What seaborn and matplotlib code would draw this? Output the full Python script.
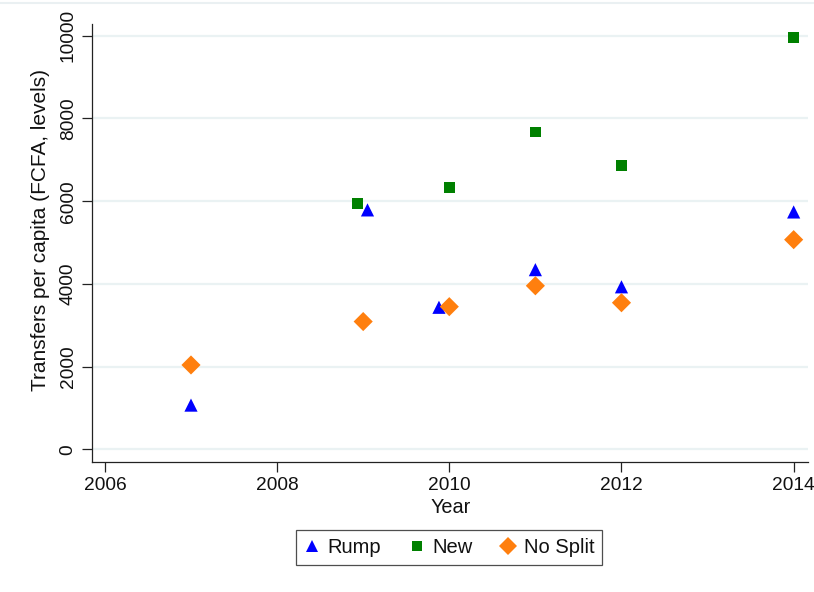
#! /usr/bin/env python3
# -*- coding: utf-8 -*-

import numpy as np
import pandas as pd
import matplotlib as mpl
mpl.use('Agg')
import matplotlib.pyplot as plt
from matplotlib.lines import Line2D
import seaborn as sns

#========================================================================================
# values (years are slightly offset where markers would overlap)
rump_year = [2007.0, 2009.05, 2009.88, 2011.0, 2012.0, 2014.0]
rump_val = [1070, 5790, 3435, 4345, 3930, 5740]

new_year = [2008.93, 2010.0, 2011.0, 2012.0, 2014.0]
new_val = [5950, 6340, 7675, 6870, 9950]

nosplit_year = [2007.0, 2009.0, 2010.0, 2011.0, 2012.0, 2014.0]
nosplit_val = [2040, 3090, 3450, 3955, 3545, 5070]

groups = ['Rump', 'New', 'No Split']
x_ticks = [2006, 2008, 2010, 2012, 2014]
y_ticks = [0, 2000, 4000, 6000, 8000, 10000]

#========================================================================================
df = pd.concat([
    pd.DataFrame({'Year': new_year, 'val': new_val, 'group': 'New'}),
    pd.DataFrame({'Year': rump_year, 'val': rump_val, 'group': 'Rump'}),
    pd.DataFrame({'Year': nosplit_year, 'val': nosplit_val, 'group': 'No Split'}),
], ignore_index=True)

sns.set_style('white')
plt.rcParams['font.family'] = ['Liberation Sans', 'DejaVu Sans']
txt = '#111111'

fig = plt.figure(figsize=(8.14, 5.92), dpi=100)
ax = fig.add_axes([0.113, 0.220, 0.880, 0.7395])

palette = {'Rump': '#0000ff', 'New': '#008000', 'No Split': '#ff7f0e'}
markers = {'Rump': '^', 'New': 's', 'No Split': 'D'}
sizes = {'Rump': 90, 'New': 60, 'No Split': 95}

sns.scatterplot(data=df, x='Year', y='val', hue='group', style='group', size='group',
                hue_order=groups, style_order=groups, size_order=groups,
                palette=palette, markers=markers, sizes=sizes,
                edgecolor='none', linewidth=0, legend=False, ax=ax, zorder=3)

ax.set_xlim(2005.85, 2014.17)
ax.set_ylim(-300, 10285)
ax.set_xticks(x_ticks)
ax.set_yticks(y_ticks)
ax.yaxis.grid(True, color='#eaf2f3', linewidth=1.6)
ax.xaxis.grid(False)
ax.set_axisbelow(True)

for s in ['top', 'right']:
    ax.spines[s].set_visible(False)
for s in ['left', 'bottom']:
    ax.spines[s].set_color('#222222')
    ax.spines[s].set_linewidth(0.9)

ax.tick_params(axis='both', direction='out', length=7, width=0.9, color='#222222',
               labelsize=13.8, labelcolor=txt, left=True, bottom=True, pad=4)
ax.tick_params(axis='y', labelrotation=90)
for lab in ax.get_yticklabels():
    lab.set_va('center')

ax.set_xlabel('Year', fontsize=14.3, color=txt, labelpad=3)
ax.set_ylabel('Transfers per capita (FCFA, levels)', fontsize=15, color=txt)
ax.yaxis.set_label_coords(-0.058, 0.53)

# legend below the plot
handles = [Line2D([], [], linestyle='none', marker=markers[g], color=palette[g],
                  markeredgewidth=0, markersize=np.sqrt(sizes[g]) * 0.9, label=g)
           for g in groups]
leg = fig.legend(handles=handles, loc='center', bbox_to_anchor=(0.5516, 0.0752), ncol=3,
                 frameon=True, fancybox=False, fontsize=14.5, handletextpad=0.35,
                 columnspacing=1.4, borderpad=0.4, handlelength=0.8)
leg.get_frame().set_edgecolor('#222222')
leg.get_frame().set_linewidth(0.9)
for t in leg.get_texts():
    t.set_color(txt)

# thin rule at the top of the graph region
fig.add_artist(Line2D([0, 1], [0.995, 0.995], color='#eaf0f2', linewidth=1.5,
                      transform=fig.transFigure))

plt.savefig('out.png', dpi=100)
